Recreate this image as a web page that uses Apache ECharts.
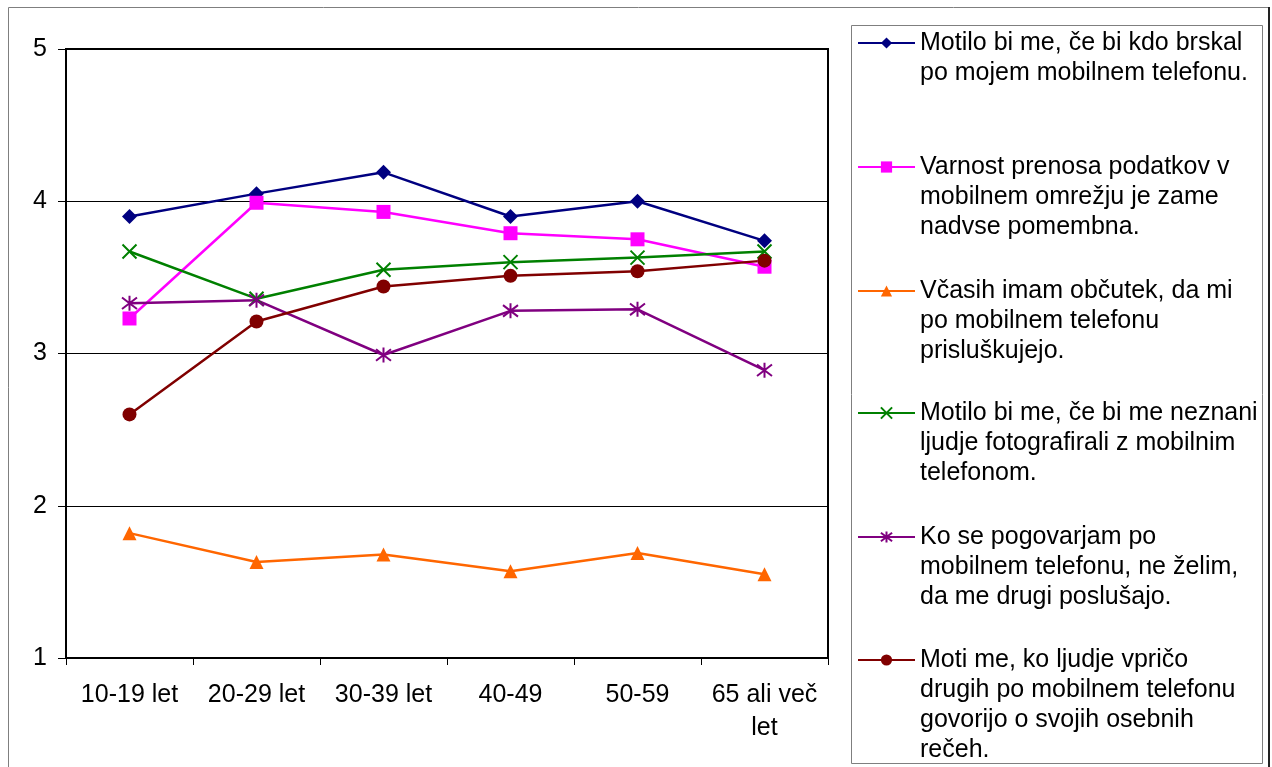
<!DOCTYPE html>
<html>
<head>
<meta charset="utf-8">
<script src="https://cdn.jsdelivr.net/npm/echarts@6/dist/echarts.min.js"></script>
<style>
html,body{margin:0;padding:0;background:#fff;}
#chart{width:1272px;height:767px;}
</style>
</head>
<body>
<div id="chart"></div>
<script>
const categories = ['10-19 let', '20-29 let', '30-39 let', '40-49', '50-59', '65 ali več\nlet'];
const yTicks = [1, 2, 3, 4, 5];

const seriesNames = [
  'Motilo bi me, če bi kdo brskal\npo mojem mobilnem telefonu.',
  'Varnost prenosa podatkov v\nmobilnem omrežju je zame\nnadvse pomembna.',
  'Včasih imam občutek, da mi\npo mobilnem telefonu\nprisluškujejo.',
  'Motilo bi me, če bi me neznani\nljudje fotografirali z mobilnim\ntelefonom.',
  'Ko se pogovarjam po\nmobilnem telefonu, ne želim,\nda me drugi poslušajo.',
  'Moti me, ko ljudje vpričo\ndrugih po mobilnem telefonu\ngovorijo o svojih osebnih\nrečeh.'
];

const brskal = [3.90, 4.05, 4.19, 3.90, 4.00, 3.74];
const varnost = [3.23, 3.99, 3.93, 3.79, 3.75, 3.57];
const prisluskujejo = [1.82, 1.63, 1.68, 1.57, 1.69, 1.55];
const fotografirali = [3.67, 3.36, 3.55, 3.60, 3.63, 3.67];
const poslusajo = [3.33, 3.35, 2.99, 3.28, 3.29, 2.89];
const osebneReci = [2.60, 3.21, 3.44, 3.51, 3.54, 3.61];

const seriesValues = [brskal, varnost, prisluskujejo, fotografirali, poslusajo, osebneReci];
const colors = ['#000080', '#FF00FF', '#FF6600', '#008000', '#800080', '#800000'];
const symbols = [
  'diamond', 'rect', 'triangle',
  'path://M0,0L10,10M0,10L10,0',
  'path://M0,0L10,10M0,10L10,0M5,-1.5L5,11.5',
  'circle'
];
const symbolSizes = [15, 14, 14, 14, 15, 14];
const strokeWidths = [0, 0, 0, 2, 2, 0];

const FONT = '"Liberation Sans", Arial, sans-serif';
const LH = 30;
// legend icon centres (px from top)
const iconCenters = [43, 167, 291, 413, 537, 660];
const ITEM_H = 14;

const legends = seriesNames.map((name, i) => {
  const n = name.split('\n').length;
  const H = (2 * n - 1) * LH;
  return {
    data: [name],
    left: 857,
    top: iconCenters[i] - H / 2,
    orient: 'vertical',
    padding: 0,
    itemWidth: 57,
    itemHeight: ITEM_H,
    selectedMode: false,
    formatter: (nm) => '\n'.repeat(n - 1) + nm,
    lineStyle: { width: 2 },
    textStyle: {
      fontFamily: FONT, fontSize: 25, lineHeight: LH, color: '#000',
      backgroundColor: 'rgba(0,0,0,0)'
    }
  };
});

const chart = echarts.init(document.getElementById('chart'), null, { renderer: 'canvas' });
chart.setOption({
  animation: false,
  backgroundColor: '#fff',
  textStyle: { fontFamily: FONT },
  graphic: [
    { type: 'rect', z: -10, shape: { x: 8.5, y: 7.5, width: 1260, height: 780 },
      style: { fill: 'none', stroke: '#7f7f7f', lineWidth: 1 } },
    { type: 'line', z: -10, shape: { x1: 1269, y1: 7, x2: 1269, y2: 767 },
      style: { stroke: '#222', lineWidth: 2 } },
    { type: 'rect', z: -10, shape: { x: 851.5, y: 25.5, width: 411, height: 738 },
      style: { fill: 'none', stroke: '#7f7f7f', lineWidth: 1 } }
  ],
  legend: legends,
  grid: {
    left: 66, top: 49, width: 762, height: 609,
    show: true, borderColor: '#000', borderWidth: 2, backgroundColor: 'transparent'
  },
  xAxis: {
    type: 'category',
    data: categories,
    boundaryGap: true,
    axisLine: { show: true, lineStyle: { color: '#000', width: 2 } },
    axisTick: { show: true, length: 7, lineStyle: { color: '#000', width: 1 } },
    axisLabel: { interval: 0, margin: 21, fontSize: 25, lineHeight: 33, color: '#000', fontFamily: FONT },
    splitLine: { show: false }
  },
  yAxis: {
    type: 'value',
    min: yTicks[0],
    max: yTicks[yTicks.length - 1],
    interval: 1,
    axisLine: { show: true, lineStyle: { color: '#000', width: 2 } },
    axisTick: { show: true, length: 8, lineStyle: { color: '#000', width: 1 } },
    axisLabel: { margin: 19, fontSize: 25, color: '#000', fontFamily: FONT },
    splitLine: { show: true, lineStyle: { color: '#000', width: 1 } }
  },
  series: seriesNames.map((name, i) => ({
    name: name,
    type: 'line',
    data: seriesValues[i],
    symbol: symbols[i],
    symbolSize: symbolSizes[i],
    showSymbol: true,
    lineStyle: { width: 2.5, color: colors[i] },
    itemStyle: { color: colors[i], borderColor: colors[i], borderWidth: strokeWidths[i] },
    emphasis: { disabled: true }
  }))
});
</script>
</body>
</html>
